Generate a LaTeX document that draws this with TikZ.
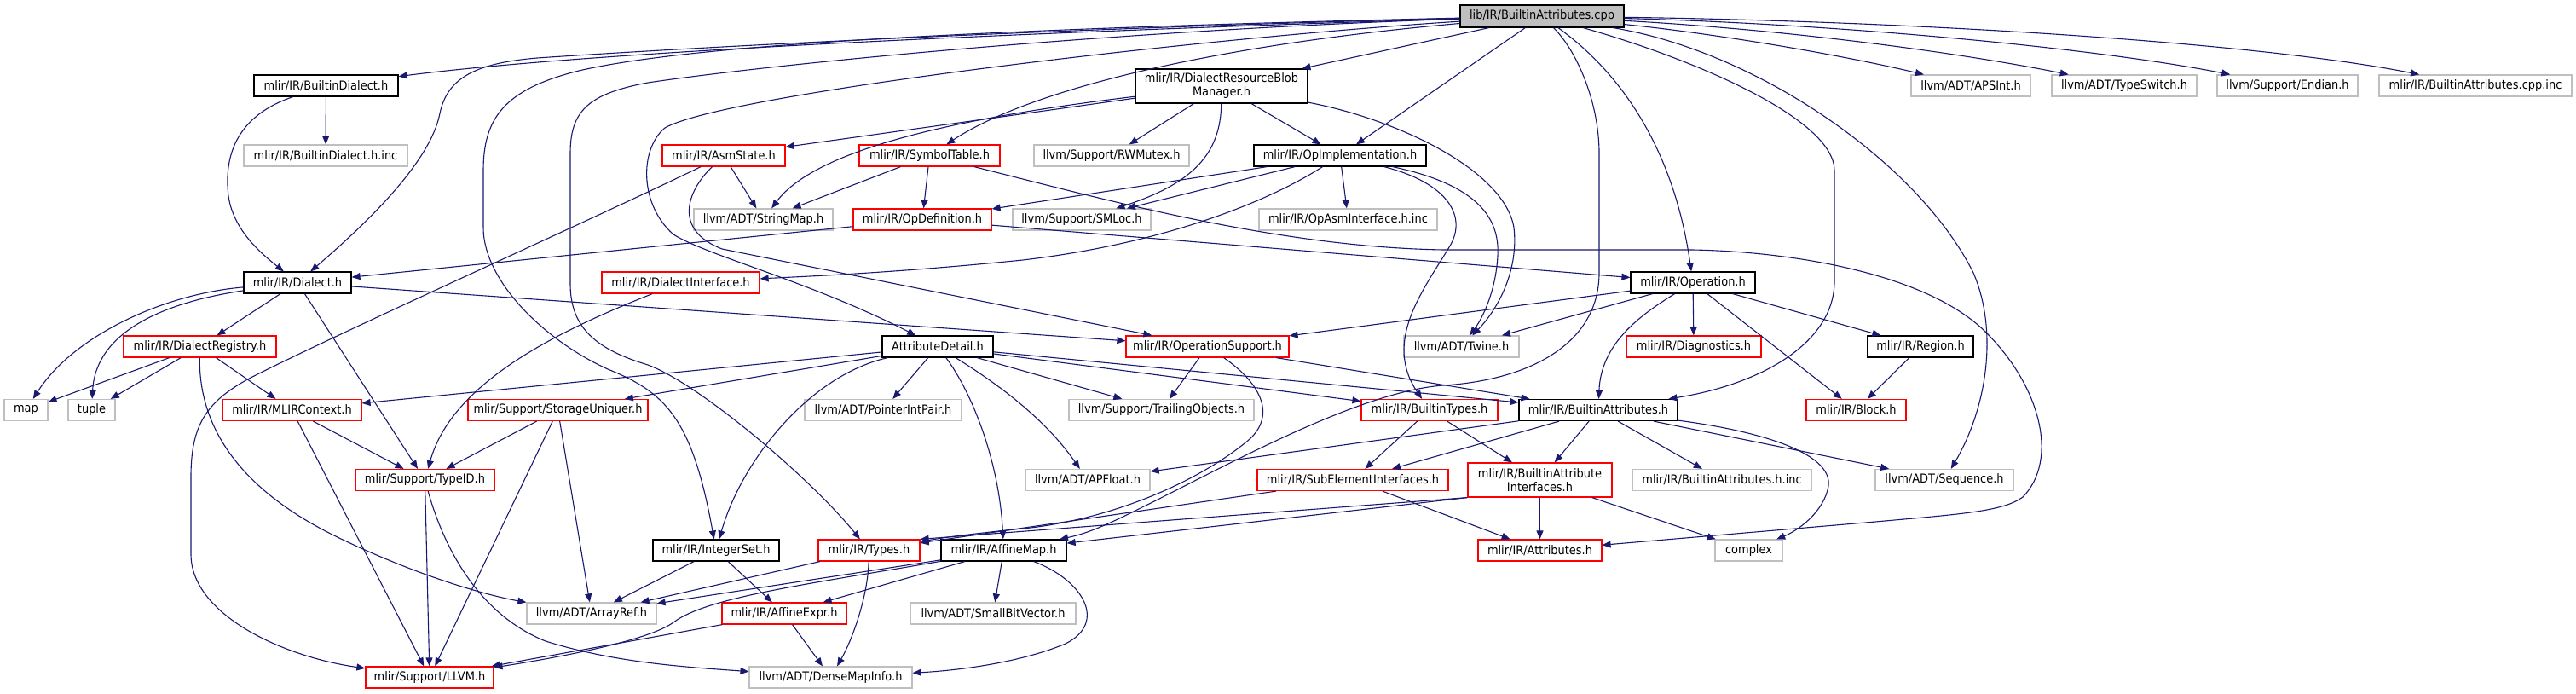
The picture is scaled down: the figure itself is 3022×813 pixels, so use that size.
\documentclass[tikz,border=0pt]{standalone}
\usepackage{fontspec}
\setmainfont{DejaVu Sans}[FakeStretch=0.9]
\usetikzlibrary{arrows.meta}
\definecolor{edgeblue}{HTML}{191970}
\definecolor{greyb}{HTML}{BFBFBF}
\definecolor{redb}{HTML}{FF0000}
\newcommand{\nodefont}{\fontsize{7.2pt}{8pt}\selectfont}
\tikzset{
  nb/.style={rectangle, inner sep=0pt, minimum height=12.5pt, font=\nodefont, align=center, line width=0.6pt},
  blackbox/.style={nb, draw=black},
  redbox/.style={nb, draw=redb},
  graybox/.style={nb, draw=greyb},
  rootbox/.style={nb, draw=black, fill=greyb, minimum height=13pt},
  tall/.style={minimum height=20pt},
  e/.style={draw=edgeblue, line width=0.55pt, -{Triangle[length=5pt,width=4pt]}}
}
\begin{document}
\begin{tikzpicture}[x=0.5pt,y=-0.5pt]
\useasboundingbox (0,0) rectangle (3022,813);
% nodes
\node[rootbox, minimum width=96pt] (root) at (1809,19) {lib/IR/BuiltinAttributes.cpp};
% row 1
\node[blackbox, minimum width=84.5pt] (bdial) at (382.5,100.5) {mlir/IR/BuiltinDialect.h};
\node[blackbox, tall, minimum width=101pt] (drbm) at (1433,101) {mlir/IR/DialectResourceBlob\\Manager.h};
\node[graybox, minimum width=70pt] (apsint) at (2312,100.5) {llvm/ADT/APSInt.h};
\node[graybox, minimum width=85pt] (tswitch) at (2492,100.5) {llvm/ADT/TypeSwitch.h};
\node[graybox, minimum width=82.5pt] (endian) at (2683.5,100.5) {llvm/Support/Endian.h};
\node[graybox, minimum width=113pt] (cppinc) at (2904,100.5) {mlir/IR/BuiltinAttributes.cpp.inc};
% row 2
\node[graybox, minimum width=96pt] (bdinc) at (382,182.5) {mlir/IR/BuiltinDialect.h.inc};
\node[redbox, minimum width=72pt] (asmst) at (849,182.5) {mlir/IR/AsmState.h};
\node[redbox, minimum width=82.5pt] (symtab) at (1090.5,182.5) {mlir/IR/SymbolTable.h};
\node[graybox, minimum width=91pt] (rwmutex) at (1304,182.5) {llvm/Support/RWMutex.h};
\node[blackbox, minimum width=101pt] (opimpl) at (1572,182.5) {mlir/IR/OpImplementation.h};
% row 3
\node[graybox, minimum width=81.5pt] (strmap) at (895.5,257.5) {llvm/ADT/StringMap.h};
\node[redbox, minimum width=81pt] (opdef) at (1082,257.5) {mlir/IR/OpDefinition.h};
\node[graybox, minimum width=81pt] (smloc) at (1269,257.5) {llvm/Support/SMLoc.h};
\node[graybox, minimum width=104.5pt] (opasminc) at (1581.5,257.5) {mlir/IR/OpAsmInterface.h.inc};
% row 4
\node[blackbox, minimum width=63pt] (dialect) at (349,331.5) {mlir/IR/Dialect.h};
\node[redbox, minimum width=92.5pt] (dialif) at (798.5,331.5) {mlir/IR/DialectInterface.h};
\node[blackbox, minimum width=73pt] (operation) at (1986,331.5) {mlir/IR/Operation.h};
% row 5
\node[redbox, minimum width=89.5pt] (dreg) at (234.5,406.5) {mlir/IR/DialectRegistry.h};
\node[blackbox, minimum width=65pt] (attrdet) at (1100,406.5) {AttributeDetail.h};
\node[redbox, minimum width=95.5pt] (opsupp) at (1416.5,406.5) {mlir/IR/OperationSupport.h};
\node[graybox, minimum width=67.5pt] (twine) at (1714.5,406.5) {llvm/ADT/Twine.h};
\node[redbox, minimum width=79pt] (diag) at (1987,406.5) {mlir/IR/Diagnostics.h};
\node[blackbox, minimum width=62pt] (region) at (2253,406.5) {mlir/IR/Region.h};
% row 6
\node[graybox, minimum width=25.5pt] (map) at (30.5,481) {map};
\node[graybox, minimum width=27.5pt] (tuple) at (107.5,481) {tuple};
\node[redbox, minimum width=81.5pt] (mlirctx) at (342.5,481) {mlir/IR/MLIRContext.h};
\node[redbox, minimum width=105.5pt] (storuniq) at (654.5,481) {mlir/Support/StorageUniquer.h};
\node[graybox, minimum width=92pt] (pip) at (1036,481) {llvm/ADT/PointerIntPair.h};
\node[graybox, minimum width=108.5pt] (trailobj) at (1362.5,481) {llvm/Support/TrailingObjects.h};
\node[redbox, minimum width=80pt] (btypes) at (1677,481) {mlir/IR/BuiltinTypes.h};
\node[blackbox, minimum width=93pt] (battrs) at (1875,481) {mlir/IR/BuiltinAttributes.h};
\node[redbox, minimum width=58.5pt] (block) at (2177.5,481) {mlir/IR/Block.h};
% row 7
\node[redbox, minimum width=81.5pt] (typeid) at (498.5,563) {mlir/Support/TypeID.h};
\node[graybox, minimum width=73pt] (apfloat) at (1276,563) {llvm/ADT/APFloat.h};
\node[redbox, minimum width=112pt] (subel) at (1587,563) {mlir/IR/SubElementInterfaces.h};
\node[redbox, tall, minimum width=84.5pt] (bai) at (1806.5,563) {mlir/IR/BuiltinAttribute\\Interfaces.h};
\node[graybox, minimum width=105pt] (bainc) at (2020,563) {mlir/IR/BuiltinAttributes.h.inc};
\node[graybox, minimum width=81pt] (sequence) at (2281,563) {llvm/ADT/Sequence.h};
% row 8
\node[blackbox, minimum width=74pt] (intset) at (840,645.5) {mlir/IR/IntegerSet.h};
\node[redbox, minimum width=59.5pt] (types) at (1019.5,645.5) {mlir/IR/Types.h};
\node[blackbox, minimum width=73.5pt] (affmap) at (1177.5,645.5) {mlir/IR/AffineMap.h};
\node[redbox, minimum width=72.5pt] (attrs) at (1806.5,645.5) {mlir/IR/Attributes.h};
\node[graybox, minimum width=39.5pt] (complex) at (2051.5,645.5) {complex};
% row 9
\node[graybox, minimum width=76pt] (arrayref) at (694,719.5) {llvm/ADT/ArrayRef.h};
\node[redbox, minimum width=73pt] (affexpr) at (920,719.5) {mlir/IR/AffineExpr.h};
\node[graybox, minimum width=97pt] (sbv) at (1165,719.5) {llvm/ADT/SmallBitVector.h};
% row 10
\node[redbox, minimum width=75pt] (llvmh) at (504,794.5) {mlir/Support/LLVM.h};
\node[graybox, minimum width=95.5pt] (dmi) at (974.5,794.5) {llvm/ADT/DenseMapInfo.h};

% edges from root
\draw[e] (root) .. controls (1200,38) and (700,60) .. (bdial);
\draw[e] (root) .. controls (1300,32) and (900,50) .. (630,68) .. controls (560,74) and (525,90) .. (516,133) .. controls (505,190) and (430,262) .. (dialect);
\draw[e] (root) .. controls (1100,35) and (800,55) .. (679,83) .. controls (590,105) and (567,140) .. (567,200) -- (567,267) .. controls (567,330) and (640,400) .. (713,433) .. controls (780,460) and (812,490) .. (intset);
\draw[e] (root) .. controls (1300,36) and (900,76) .. (760,97) .. controls (690,110) and (669,130) .. (669,180) -- (669,333) .. controls (669,385) and (700,410) .. (760,428) .. controls (820,450) and (950,560) .. (types);
\draw[e] (root) -- (drbm);
\draw[e] (root) -- (opimpl);
\draw[e] (root) .. controls (1400,55) and (1200,110) .. (symtab);
\draw[e] (root) .. controls (1400,45) and (850,110) .. (780,150) .. controls (750,175) and (750,240) .. (790,275) .. controls (830,300) and (950,330) .. (attrdet);
\draw[e] (root) .. controls (1880,70) and (1960,150) .. (operation);
\draw[e] (root) .. controls (1990,70) and (2152,140) .. (2152,200) -- (2152,330) .. controls (2152,400) and (2070,450) .. (battrs);
\draw[e] (root) .. controls (2060,60) and (2250,190) .. (2315,320) .. controls (2345,390) and (2330,480) .. (sequence);
\draw[e] (root) .. controls (2000,38) and (2150,62) .. (apsint);
\draw[e] (root) .. controls (2100,35) and (2300,62) .. (tswitch);
\draw[e] (root) .. controls (2150,28) and (2450,55) .. (endian);
\draw[e] (root) .. controls (2250,25) and (2650,50) .. (cppinc);
\draw[e] (root) .. controls (1850,60) and (1876,120) .. (1876,180) -- (1876,320) .. controls (1876,400) and (1800,445) .. (1694,452) .. controls (1600,458) and (1450,540) .. (1356,587) .. controls (1310,610) and (1280,625) .. (affmap);
% BuiltinDialect
\draw[e] (bdial) .. controls (280,135) and (262,180) .. (268,230) .. controls (274,272) and (310,300) .. (dialect);
\draw[e] (bdial) -- (bdinc);
% DRBM
\draw[e] (drbm) .. controls (1150,135) and (960,170) .. (strmap);
\draw[e] (drbm) -- (asmst);
\draw[e] (drbm) -- (rwmutex);
\draw[e] (drbm) .. controls (1432,180) and (1400,215) .. (smloc);
\draw[e] (drbm) -- (opimpl);
\draw[e] (drbm) .. controls (1640,140) and (1765,200) .. (1776,267) .. controls (1782,320) and (1755,365) .. (twine);
% AsmState
\draw[e] (asmst) -- (strmap);
\draw[e] (asmst) .. controls (700,255) and (420,380) .. (300,440) .. controls (240,470) and (224,500) .. (224,560) -- (224,650) .. controls (224,720) and (330,770) .. (llvmh);
\draw[e] (asmst) .. controls (805,225) and (790,270) .. (847,292) -- (opsupp);
% SymbolTable
\draw[e] (symtab) -- (strmap);
\draw[e] (symtab) -- (opdef);
\draw[e] (symtab) .. controls (1300,235) and (1500,290) .. (1694,293) -- (1985,293) .. controls (2100,295) and (2260,320) .. (2330,390) .. controls (2395,455) and (2415,540) .. (2373,583) .. controls (2350,600) and (2300,603) .. (2200,612) -- (attrs);
% OpImplementation
\draw[e] (opimpl) -- (opdef);
\draw[e] (opimpl) -- (smloc);
\draw[e] (opimpl) -- (opasminc);
\draw[e] (opimpl) .. controls (1490,235) and (1370,285) .. (1200,305) .. controls (1050,320) and (950,324) .. (dialif);
\draw[e] (opimpl) .. controls (1700,215) and (1722,255) .. (1700,290) .. controls (1670,340) and (1622,400) .. (btypes);
\draw[e] (opimpl) .. controls (1725,215) and (1760,250) .. (1757,300) .. controls (1755,340) and (1740,372) .. (twine);
% OpDefinition
\draw[e] (opdef) -- (dialect);
\draw[e] (opdef) -- (operation);
% Dialect
\draw[e] (dialect) -- (dreg);
\draw[e] (dialect) -- (typeid);
\draw[e] (dialect) .. controls (190,345) and (85,395) .. (map);
\draw[e] (dialect) .. controls (190,355) and (112,390) .. (tuple);
\draw[e] (dialect) -- (opsupp);
% DialectInterface
\draw[e] (dialif) .. controls (650,390) and (530,450) .. (typeid);
% Operation
\draw[e] (operation) -- (opsupp);
\draw[e] (operation) -- (twine);
\draw[e] (operation) -- (diag);
\draw[e] (operation) -- (region);
\draw[e] (operation) -- (block);
\draw[e] (operation) .. controls (1920,372) and (1878,405) .. (battrs);
\draw[e] (region) -- (block);
% DialectRegistry
\draw[e] (dreg) -- (map);
\draw[e] (dreg) -- (tuple);
\draw[e] (dreg) -- (mlirctx);
\draw[e] (dreg) .. controls (233,500) and (280,575) .. (400,632) .. controls (500,680) and (580,700) .. (arrayref);
% MLIRContext, StorageUniquer, TypeID
\draw[e] (mlirctx) -- (typeid);
\draw[e] (mlirctx) -- (llvmh);
\draw[e] (storuniq) -- (typeid);
\draw[e] (storuniq) -- (llvmh);
\draw[e] (storuniq) -- (arrayref);
\draw[e] (typeid) -- (llvmh);
\draw[e] (typeid) .. controls (520,640) and (560,720) .. (640,752) .. controls (720,777) and (800,782) .. (dmi);
% AttributeDetail
\draw[e] (attrdet) -- (mlirctx);
\draw[e] (attrdet) -- (storuniq);
\draw[e] (attrdet) .. controls (950,440) and (870,540) .. (intset);
\draw[e] (attrdet) -- (pip);
\draw[e] (attrdet) .. controls (1140,460) and (1172,540) .. (affmap);
\draw[e] (attrdet) .. controls (1170,450) and (1225,490) .. (apfloat);
\draw[e] (attrdet) -- (trailobj);
\draw[e] (attrdet) -- (btypes);
\draw[e] (attrdet) -- (battrs);
% OperationSupport
\draw[e] (opsupp) -- (trailobj);
\draw[e] (opsupp) .. controls (1480,450) and (1500,490) .. (1460,520) .. controls (1400,568) and (1300,610) .. (1200,620) .. controls (1150,625) and (1110,630) .. (types);
\draw[e] (opsupp) -- (battrs);
% BuiltinTypes
\draw[e] (btypes) -- (subel);
\draw[e] (btypes) -- (bai);
% BuiltinAttributes.h
\draw[e] (battrs) -- (subel);
\draw[e] (battrs) -- (bai);
\draw[e] (battrs) -- (bainc);
\draw[e] (battrs) -- (sequence);
\draw[e] (battrs) .. controls (2060,505) and (2150,530) .. (2145,570) .. controls (2140,600) and (2110,622) .. (complex);
\draw[e] (battrs) -- (apfloat);
% SubElementInterfaces
\draw[e] (subel) -- (types);
\draw[e] (subel) -- (attrs);
% BuiltinAttributeInterfaces
\draw[e] (bai) -- (attrs);
\draw[e] (bai) -- (complex);
\draw[e] (bai.south west) -- (types.north east);
\draw[e] (bai.south west) -- (affmap);
% IntegerSet
\draw[e] (intset) -- (arrayref);
\draw[e] (intset) -- (affexpr);
% Types
\draw[e] (types) -- (arrayref);
\draw[e] (types) .. controls (1018,700) and (1000,750) .. (dmi);
% AffineMap
\draw[e] (affmap) -- (arrayref);
\draw[e] (affmap) -- (affexpr);
\draw[e] (affmap) -- (sbv);
\draw[e] (affmap) .. controls (1270,680) and (1300,730) .. (1250,755) .. controls (1200,776) and (1130,786) .. (dmi);
\draw[e] (affmap) .. controls (950,685) and (830,700) .. (790,730) .. controls (760,752) and (650,772) .. (llvmh);
% AffineExpr
\draw[e] (affexpr) -- (llvmh);
\draw[e] (affexpr) -- (dmi);
\end{tikzpicture}
\end{document}
